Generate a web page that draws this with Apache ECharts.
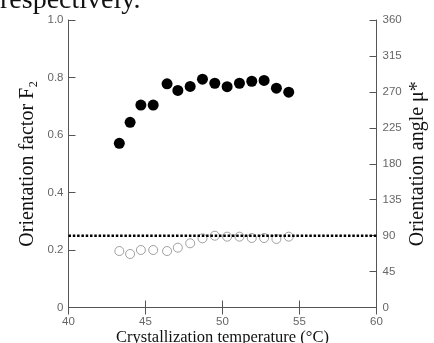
<!DOCTYPE html>
<html>
<head>
<meta charset="utf-8">
<style>
  html, body { margin: 0; padding: 0; background: #fff; }
  #chart { width: 434px; height: 343px; }
</style>
<script src="https://cdn.jsdelivr.net/npm/echarts@6/dist/echarts.min.js"></script>
</head>
<body>
<div id="chart"></div>
<script>
// crystallization temperature (°C)
const temperature = [43.3, 44.0, 44.7, 45.5, 46.4, 47.1, 47.9, 48.7, 49.5, 50.3, 51.1, 51.9, 52.7, 53.5, 54.3];
// orientation factor F2 (filled circles, left axis)
const factorF2 = [0.571, 0.644, 0.704, 0.704, 0.778, 0.755, 0.769, 0.794, 0.780, 0.768, 0.780, 0.787, 0.790, 0.763, 0.749];
// orientation angle mu* in degrees (open circles, right axis)
const angleMu = [70.7, 67.0, 72.0, 72.0, 70.7, 74.9, 80.4, 86.6, 89.9, 88.7, 88.7, 87.0, 87.0, 85.8, 88.7];
// dotted reference level
const refX = [40, 60];
const refF2 = 0.25;

const axisGrey = "#555";
const labelStyle = { fontFamily: "Liberation Sans", fontSize: 11.5, color: "#666" };
const nameStyle = { fontFamily: "Liberation Serif", fontSize: 20, color: "#111" };

const chart = echarts.init(document.getElementById("chart"), null, { renderer: "canvas" });

chart.setOption({
  animation: false,
  backgroundColor: "#fff",
  grid: { left: 68.5, right: 57.5, top: 20, bottom: 35.5, containLabel: false, outerBoundsMode: "none" },
  graphic: [
    {
      type: "text",
      left: 0,
      top: -13,
      style: { text: "respectively.", fontFamily: "Liberation Serif", fontSize: 28, fill: "#111" },
    },
  ],
  xAxis: [
    {
      type: "value",
      min: 40,
      max: 60,
      interval: 5,
      position: "bottom",
      name: "Crystallization temperature (°C)",
      nameLocation: "middle",
      nameGap: 22,
      nameMoveOverlap: false,
      nameTextStyle: { ...nameStyle, fontSize: 16.5 },
      axisLine: { lineStyle: { color: axisGrey, width: 1 } },
      axisTick: { inside: true, length: 7, lineStyle: { color: axisGrey } },
      axisLabel: { ...labelStyle, margin: 8 },
      splitLine: { show: false },
    },
    {
      type: "value",
      min: 40,
      max: 60,
      interval: 5,
      position: "top",
      axisLine: { lineStyle: { color: axisGrey, width: 1 } },
      axisTick: { inside: true, length: 7, lineStyle: { color: axisGrey } },
      axisLabel: { show: false },
      splitLine: { show: false },
    },
  ],
  yAxis: [
    {
      type: "value",
      min: 0,
      max: 1,
      interval: 0.2,
      position: "left",
      name: "Orientation factor F₂",
      nameLocation: "middle",
      nameGap: 31,
      nameMoveOverlap: false,
      nameTextStyle: nameStyle,
      axisLine: { show: true, lineStyle: { color: axisGrey, width: 1 } },
      axisTick: { show: true, inside: true, length: 7, lineStyle: { color: axisGrey } },
      axisLabel: { ...labelStyle, margin: 5, formatter: (v) => (v === 0 ? "0" : v.toFixed(1)) },
      splitLine: { show: false },
    },
    {
      type: "value",
      min: 0,
      max: 360,
      interval: 45,
      position: "right",
      name: "Orientation angle μ*",
      nameLocation: "middle",
      nameGap: 31,
      nameRotate: 90,
      nameMoveOverlap: false,
      nameTextStyle: nameStyle,
      axisLine: { show: true, lineStyle: { color: axisGrey, width: 1 } },
      axisTick: { show: true, inside: true, length: 7, lineStyle: { color: axisGrey } },
      axisLabel: { ...labelStyle, margin: 6 },
      splitLine: { show: false },
    },
  ],
  series: [
    {
      name: "mu",
      type: "scatter",
      yAxisIndex: 1,
      symbol: "circle",
      symbolSize: 9,
      itemStyle: { color: "#fff", borderColor: "#8a8a8a", borderWidth: 1 },
      data: temperature.map((t, i) => [t, angleMu[i]]),
      z: 2,
    },
    {
      name: "reference",
      type: "line",
      symbol: "none",
      lineStyle: { color: "#000", width: 2.5, type: [2.5, 1.8] },
      data: refX.map((x) => [x, refF2]),
      z: 3,
    },
    {
      name: "F2",
      type: "scatter",
      symbol: "circle",
      symbolSize: 11,
      itemStyle: { color: "#000", opacity: 1 },
      data: temperature.map((t, i) => [t, factorF2[i]]),
      z: 4,
    },
  ],
});
</script>
</body>
</html>
